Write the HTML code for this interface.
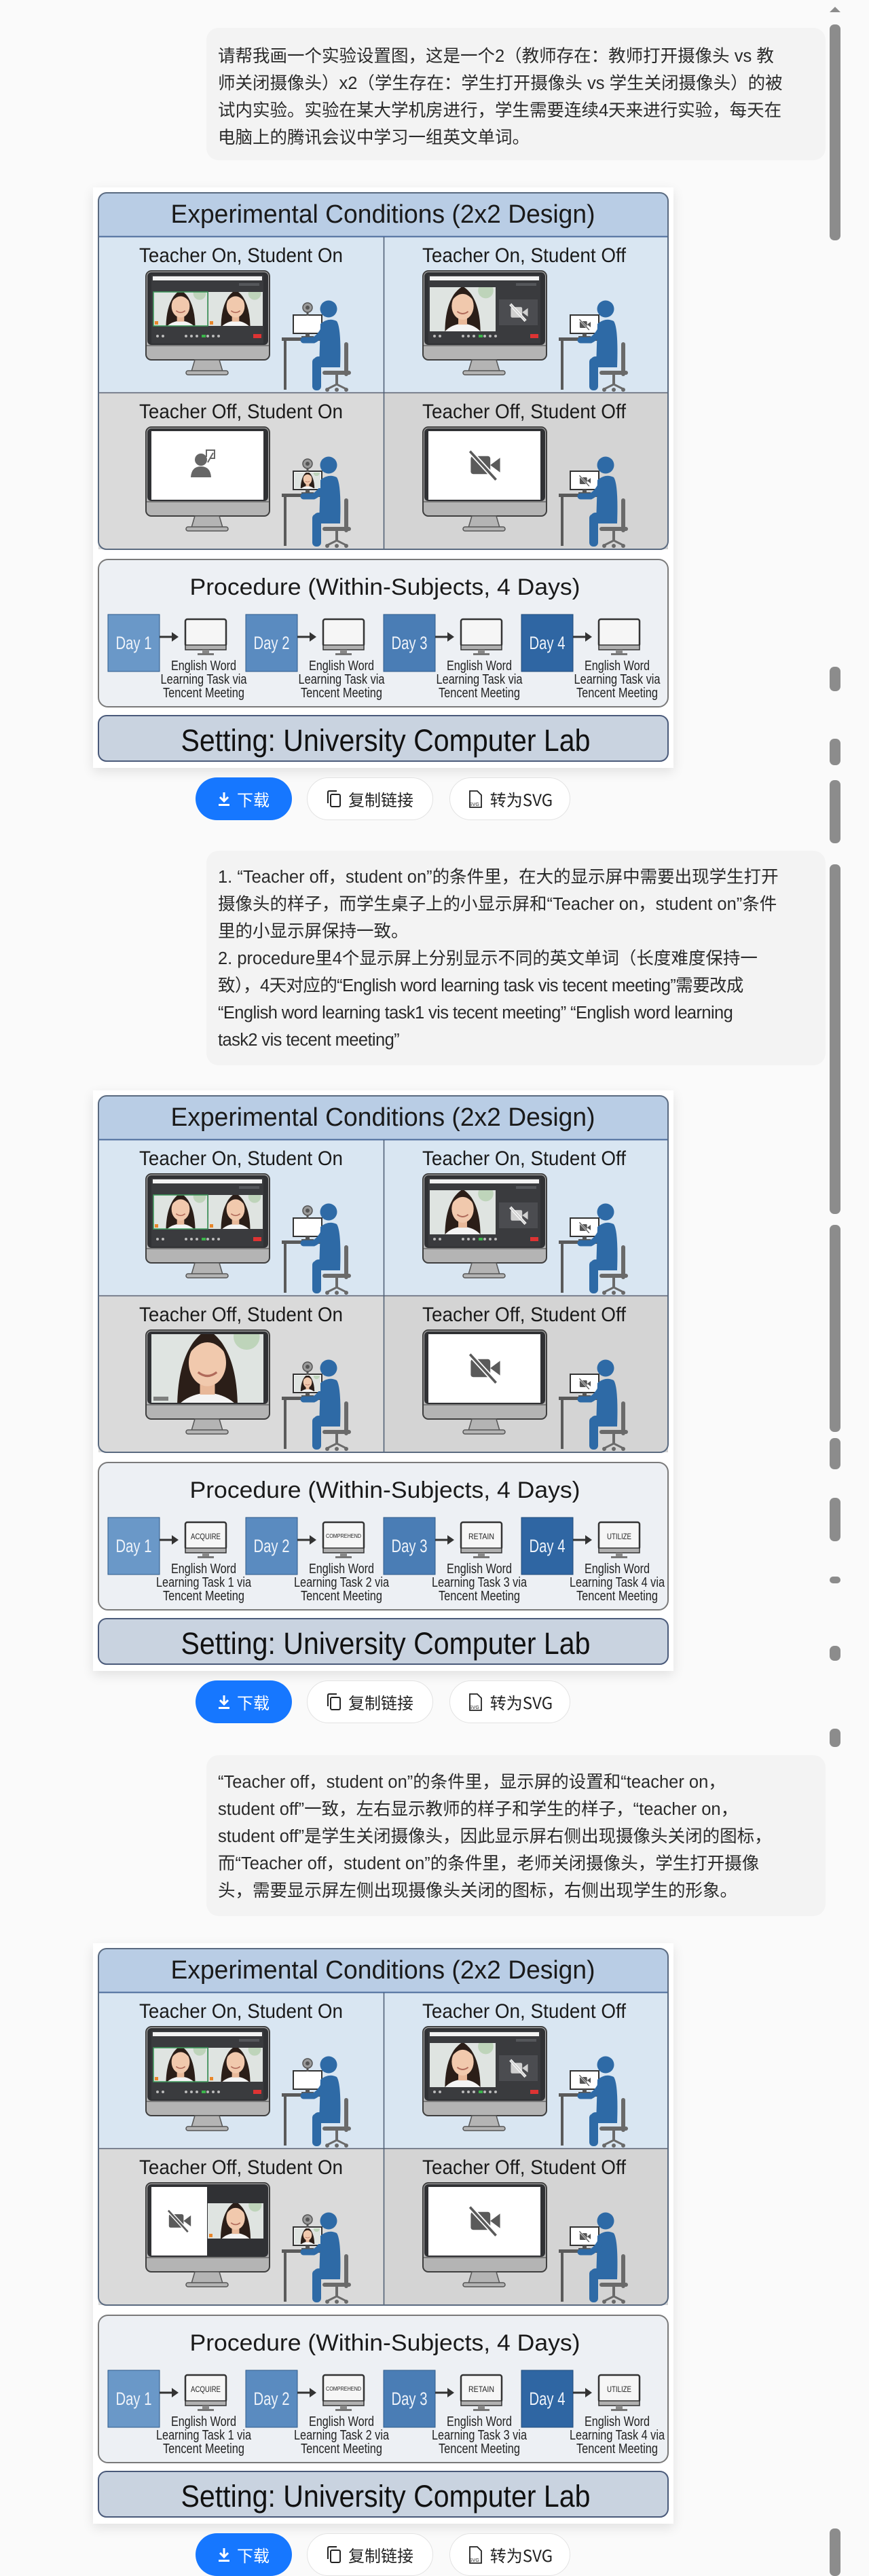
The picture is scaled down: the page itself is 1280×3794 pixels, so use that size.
<!DOCTYPE html>
<html><head><meta charset="utf-8">
<style>
html,body{margin:0;padding:0;}
body{width:1280px;height:3788px;background:#fafafa;position:relative;overflow:hidden;font-family:"Liberation Sans","Noto Sans CJK SC",sans-serif;}
.bub{position:absolute;left:304px;width:912px;background:#f3f3f3;border-radius:18px;}
.bt{position:absolute;left:321px;font-family:"Liberation Sans","Noto Sans CJK SC",sans-serif;font-size:25.5px;line-height:40px;color:#2a2a2a;white-space:nowrap;}
.tight{letter-spacing:-0.6px;}
.wrap{position:absolute;left:137px;width:855px;height:855px;background:#fff;box-shadow:0 6px 16px rgba(0,0,0,0.10);}
.dg{position:absolute;left:144px;}
.btn{position:absolute;height:63px;border-radius:33px;display:flex;align-items:center;justify-content:center;font-family:"Noto Sans CJK SC",sans-serif;font-size:24px;color:#222;background:#fff;border:1px solid #e2e2e2;box-sizing:border-box;gap:10px;}
.btn.blue{background:#1677ff;color:#fff;border:none;}
.sb{position:absolute;left:1222px;width:16px;background:#8c8c8c;border-radius:7px;}
svg text{font-family:"Liberation Sans",sans-serif;}
</style></head><body>

<svg width="0" height="0" style="position:absolute">
<defs>
<symbol id="face" viewBox="0 0 60 60" preserveAspectRatio="xMidYMid slice">
<rect width="60" height="60" fill="#dfe4e1"/>
<rect x="44" y="6" width="14" height="14" rx="7" fill="#a9c9a0" opacity="0.6"/>
<path d="M14 60 Q12 20 30 9 Q48 20 46 60 Z" fill="#2b1e18"/>
<path d="M8 60 Q14 44 30 43 Q46 44 52 60 Z" fill="#f4f4f4"/>
<rect x="26" y="34" width="8" height="10" fill="#e8b899"/>
<ellipse cx="30" cy="27" rx="10" ry="12.5" fill="#f1c9ad"/>
<path d="M19 24 Q22 12 30 12 Q38 12 41 24 Q36 16 30 16 Q24 16 19 24Z" fill="#2b1e18"/>
<path d="M25 32 Q30 36 35 32" stroke="#b06a5a" stroke-width="1.2" fill="none"/>
</symbol>
<g id="camoff">
<rect x="-18" y="-11" width="24" height="22" rx="3" stroke="none"/>
<path d="M6 0 L18 -9 L18 9 Z" stroke="none"/>
<line x1="-19" y1="-17" x2="13" y2="18" stroke="#fff" stroke-width="6"/>
<line x1="-19" y1="-17" x2="13" y2="18" stroke-width="3"/>
</g>
<g id="bigmon">
<rect x="71" y="116" width="182" height="131" rx="8" fill="#b4b4b4" stroke="#3f3f3f" stroke-width="2"/>
<rect x="73" y="118" width="178" height="107" rx="6" fill="#303134"/>
<line x1="72" y1="226" x2="252" y2="226" stroke="#666" stroke-width="1.5"/>
<path d="M143 247 L179 247 L184 264 L138 264Z" fill="#b4b4b4" stroke="#555" stroke-width="1.5"/>
<rect x="130" y="263" width="62" height="6" rx="3" fill="#b4b4b4" stroke="#555" stroke-width="1.5"/>
</g>
<g id="person">
<rect x="271" y="214" width="66" height="5" fill="#5a5a5a"/>
<rect x="274" y="219" width="4" height="72" fill="#5a5a5a"/>
<rect x="288" y="181" width="42" height="27" fill="#fff" stroke="#333" stroke-width="2"/>
<rect x="306" y="208" width="6" height="6" fill="#555"/>
<rect x="300" y="212" width="18" height="3" fill="#555"/>
<path d="M366 224 L366 268" stroke="#6a6a6a" stroke-width="6" stroke-linecap="round"/>
<path d="M334 266 L370 266" stroke="#6a6a6a" stroke-width="6" stroke-linecap="round"/>
<path d="M352 266 L352 284" stroke="#6a6a6a" stroke-width="4"/>
<path d="M338 290 L352 283 L366 290" stroke="#6a6a6a" stroke-width="3" fill="none"/>
<circle cx="338" cy="291" r="3" fill="#6a6a6a"/><circle cx="352" cy="291" r="3" fill="#6a6a6a"/><circle cx="366" cy="291" r="3" fill="#6a6a6a"/>
<circle cx="340" cy="172" r="12.5" fill="#2e6aa6"/>
<path d="M328 194 Q340 184 352 190 Q359 200 357 258 L326 258 Z" fill="#2e6aa6"/>
<path d="M334 200 Q327 214 318 218 L303 218" stroke="#2e6aa6" stroke-width="9" stroke-linecap="round" fill="none"/>
<rect x="318" y="242" width="39" height="16" rx="7" fill="#2e6aa6"/>
<rect x="316" y="244" width="13" height="48" rx="6" fill="#2e6aa6"/>
</g>
<g id="webcam">
<line x1="309" y1="175" x2="309" y2="182" stroke="#555" stroke-width="3"/>
<circle cx="309" cy="170" r="7" fill="#9a9a9a" stroke="#555" stroke-width="1.5"/>
<circle cx="309" cy="170" r="3" fill="#555"/>
</g>
<g id="ui_top">
<rect x="79" y="122" width="165" height="101" fill="#3a3b3e"/>
<rect x="81" y="124" width="161" height="6" fill="#f3f3f3"/>
<rect x="208" y="134" width="30" height="4" fill="#55575b"/>
<g fill="#bbb"><circle cx="88" cy="212" r="2"/><circle cx="96" cy="212" r="2"/><circle cx="130" cy="212" r="2"/><circle cx="138" cy="212" r="2"/><circle cx="146" cy="212" r="2"/><circle cx="162" cy="212" r="2"/><circle cx="170" cy="212" r="2"/><circle cx="178" cy="212" r="2"/></g>
<rect x="153" y="210" width="6" height="4" fill="#3bb54a"/>
<rect x="229" y="209" width="12" height="6" fill="#d33"/>
</g>
<g id="row1">
<use href="#bigmon"/>
<use href="#ui_top"/>
<use href="#face" x="82" y="147" width="80" height="50"/>
<rect x="82" y="147" width="80" height="50" fill="none" stroke="#3c9a5a" stroke-width="1.5"/>
<use href="#face" x="163" y="147" width="80" height="50"/>
<rect x="84" y="190" width="5" height="5" fill="#e8862a"/><rect x="165" y="190" width="5" height="5" fill="#e8862a"/>
<use href="#person"/><use href="#webcam"/>
<g transform="translate(408,0)">
<use href="#bigmon"/>
<use href="#ui_top"/>
<use href="#face" x="81" y="140" width="97" height="65"/>
<rect x="183" y="158" width="57" height="38" fill="#4b4c50"/>
<use href="#camoff" transform="translate(213,177) scale(0.7)" fill="#d0d0d0" stroke="#d0d0d0"/>
<use href="#person"/>
<use href="#camoff" transform="translate(310,195) scale(0.45)" fill="#555" stroke="#555"/>
</g>
</g>
<g id="cell4">
<g transform="translate(408,230)">
<use href="#bigmon"/>
<rect x="79" y="122" width="165" height="101" fill="#fff"/>
<use href="#camoff" transform="translate(163,172) scale(1.2)" fill="#5a5a5a" stroke="#5a5a5a"/>
<use href="#person"/>
<use href="#camoff" transform="translate(310,195) scale(0.45)" fill="#555" stroke="#555"/>
</g>
</g>
<g id="pmon">
<rect x="129" y="629" width="60" height="40" rx="3" fill="#f6f6f6" stroke="#333" stroke-width="2.5"/>
<rect x="129" y="667" width="60" height="7" fill="#b0b0b0" stroke="#333" stroke-width="1.5"/>
<rect x="154" y="674" width="10" height="5" fill="#888"/>
<rect x="147" y="679" width="24" height="3" fill="#777"/>
</g>
<g id="arrow">
<line x1="91" y1="655" x2="111" y2="655" stroke="#333" stroke-width="3"/>
<polygon points="109,648 119,655 109,662" fill="#333"/>
</g>
<g id="frame">
<rect x="1" y="1" width="839" height="525" rx="12" fill="#d9e6f2"/>
<rect x="1" y="296" width="839" height="230" fill="#dadada"/>
<rect x="422" y="296" width="418" height="230" fill="#d4d4d4"/>
<path d="M1 66 L1 13 Q1 1 13 1 L828 1 Q840 1 840 13 L840 66 Z" fill="#b9cde5"/>
<line x1="1" y1="65.5" x2="840" y2="65.5" stroke="#4a6a9a" stroke-width="2"/>
<line x1="1" y1="295.5" x2="840" y2="295.5" stroke="#5a6070" stroke-width="1.5"/>
<line x1="421.5" y1="66" x2="421.5" y2="526" stroke="#4a5a70" stroke-width="1.5"/>
<rect x="1" y="1" width="839" height="525" rx="12" fill="none" stroke="#5a6a80" stroke-width="2"/>
<rect x="1" y="541" width="839" height="217" rx="14" fill="#edf0f4" stroke="#7a7a7a" stroke-width="2"/>
<rect x="1" y="771" width="839" height="67" rx="12" fill="#c9d3e0" stroke="#4a5a7a" stroke-width="2"/>
<rect x="15" y="622" width="76" height="84" fill="#6a98c8" stroke="#2d5a8a"/>
<rect x="218" y="622" width="76" height="84" fill="#5a8bc0" stroke="#2d5a8a"/>
<rect x="421" y="622" width="76" height="84" fill="#4a7db5" stroke="#2d5a8a"/>
<rect x="624" y="622" width="76" height="84" fill="#2f66a3" stroke="#1f4a7a"/>
<use href="#arrow"/><use href="#arrow" x="203"/><use href="#arrow" x="406"/><use href="#arrow" x="609"/>
<use href="#pmon"/><use href="#pmon" x="203"/><use href="#pmon" x="406"/><use href="#pmon" x="609"/>
</g>
</defs>
</svg>

<!-- message 1 -->
<div class="bub" style="top:41px;height:195px;"></div>
<div class="bt" style="top:63px;">请帮我画一个实验设置图，这是一个2（教师存在：教师打开摄像头 vs 教<br>师关闭摄像头）x2（学生存在：学生打开摄像头 vs 学生关闭摄像头）的被<br>试内实验。实验在某大学机房进行，学生需要连续4天来进行实验，每天在<br>电脑上的腾讯会议中学习一组英文单词。</div>

<!-- diagram 1 -->
<div class="wrap" style="top:276px;"></div>
<svg class="dg" style="top:283px" width="841" height="839" viewBox="0 0 841 839">
<use href="#frame"/>
<use href="#row1"/>
<g transform="translate(0,230)">
<use href="#bigmon"/>
<rect x="79" y="122" width="165" height="101" fill="#fff"/>
<circle cx="152" cy="164" r="9" fill="#666"/>
<path d="M137 190 Q138 174 152 174 Q166 174 167 190 Z" fill="#666"/>
<path d="M160 160 L160 150 L172 150 L172 162 L166 162" stroke="#666" stroke-width="2" fill="none"/>
<path d="M162 168 L170 154" stroke="#666" stroke-width="2"/>
<use href="#person"/><use href="#webcam"/>
<use href="#face" x="290" y="183" width="38" height="23"/>
</g>
<use href="#cell4"/>
<text x="420" y="45" font-size="38" text-anchor="middle" textLength="625" lengthAdjust="spacingAndGlyphs" fill="#1a1a1a">Experimental Conditions (2x2 Design)</text>
<text x="211" y="103" font-size="30" text-anchor="middle" textLength="300" lengthAdjust="spacingAndGlyphs" fill="#1a1a1a">Teacher On, Student On</text>
<text x="628" y="103" font-size="30" text-anchor="middle" textLength="300" lengthAdjust="spacingAndGlyphs" fill="#1a1a1a">Teacher On, Student Off</text>
<text x="211" y="333" font-size="30" text-anchor="middle" textLength="300" lengthAdjust="spacingAndGlyphs" fill="#1a1a1a">Teacher Off, Student On</text>
<text x="628" y="333" font-size="30" text-anchor="middle" textLength="300" lengthAdjust="spacingAndGlyphs" fill="#1a1a1a">Teacher Off, Student Off</text>
<text x="423" y="593" font-size="34" text-anchor="middle" textLength="575" lengthAdjust="spacingAndGlyphs" fill="#1a1a1a">Procedure (Within-Subjects, 4 Days)</text>
<g font-size="27" fill="#eef3fa" text-anchor="middle">
<text x="53" y="673" textLength="53" lengthAdjust="spacingAndGlyphs">Day 1</text>
<text x="256" y="673" textLength="53" lengthAdjust="spacingAndGlyphs">Day 2</text>
<text x="459" y="673" textLength="53" lengthAdjust="spacingAndGlyphs">Day 3</text>
<text x="662" y="673" textLength="53" lengthAdjust="spacingAndGlyphs">Day 4</text>
</g>
<g font-size="20" fill="#222" text-anchor="middle">
<text x="156" y="704" textLength="96" lengthAdjust="spacingAndGlyphs">English Word</text>
<text x="156" y="724" textLength="127" lengthAdjust="spacingAndGlyphs">Learning Task via</text>
<text x="156" y="744" textLength="120" lengthAdjust="spacingAndGlyphs">Tencent Meeting</text>
<text x="359" y="704" textLength="96" lengthAdjust="spacingAndGlyphs">English Word</text>
<text x="359" y="724" textLength="127" lengthAdjust="spacingAndGlyphs">Learning Task via</text>
<text x="359" y="744" textLength="120" lengthAdjust="spacingAndGlyphs">Tencent Meeting</text>
<text x="562" y="704" textLength="96" lengthAdjust="spacingAndGlyphs">English Word</text>
<text x="562" y="724" textLength="127" lengthAdjust="spacingAndGlyphs">Learning Task via</text>
<text x="562" y="744" textLength="120" lengthAdjust="spacingAndGlyphs">Tencent Meeting</text>
<text x="765" y="704" textLength="96" lengthAdjust="spacingAndGlyphs">English Word</text>
<text x="765" y="724" textLength="127" lengthAdjust="spacingAndGlyphs">Learning Task via</text>
<text x="765" y="744" textLength="120" lengthAdjust="spacingAndGlyphs">Tencent Meeting</text>
</g>
<text x="424" y="823" font-size="45" text-anchor="middle" textLength="603" lengthAdjust="spacingAndGlyphs" fill="#111">Setting: University Computer Lab</text>
</svg>

<div class="btn blue" style="left:288px;top:1145px;width:142px;"><svg width="18" height="22" viewBox="0 0 18 22"><path d="M9 1 V13 M3 8 L9 14 L15 8" stroke="#fff" stroke-width="3" fill="none"/><rect x="1" y="18" width="16" height="3" fill="#fff"/></svg>下载</div>
<div class="btn" style="left:452px;top:1145px;width:186px;"><svg width="22" height="26" viewBox="0 0 22 26"><rect x="6" y="6" width="14" height="18" rx="2" fill="none" stroke="#222" stroke-width="2"/><path d="M2 19 V3 Q2 1 4 1 H15" fill="none" stroke="#222" stroke-width="2"/></svg>复制链接</div>
<div class="btn" style="left:662px;top:1145px;width:178px;"><svg width="24" height="28" viewBox="0 0 24 28"><path d="M4 2 H15 L21 8 V26 H4 Z" fill="none" stroke="#222" stroke-width="1.8"/><text x="3" y="24" font-size="7" fill="#222">SVG</text></svg>转为SVG</div>

<!-- message 2 -->
<div class="bub" style="top:1253px;height:316px;"></div>
<div class="bt" style="top:1272px;">1. “Teacher off，student on”的条件里，在大的显示屏中需要出现学生打开<br>摄像头的样子，而学生桌子上的小显示屏和“Teacher on，student on”条件<br>里的小显示屏保持一致。<br>2. procedure里4个显示屏上分别显示不同的英文单词（长度难度保持一<br><span class="tight">致），4天对应的“English word learning task vis tecent meeting”需要改成</span><br><span class="tight">“English word learning task1 vis tecent meeting” “English word learning</span><br><span class="tight">task2 vis tecent meeting”</span></div>

<!-- diagram 2 -->
<div class="wrap" style="top:1606px;"></div>
<svg class="dg" style="top:1613px" width="841" height="839" viewBox="0 0 841 839">
<use href="#frame"/>
<use href="#row1"/>
<g transform="translate(0,230)">
<use href="#bigmon"/>
<use href="#face" x="79" y="122" width="165" height="101"/>
<rect x="82" y="214" width="22" height="6" fill="#555" opacity="0.7"/>
<use href="#person"/><use href="#webcam"/>
<use href="#face" x="290" y="183" width="38" height="23"/>
</g>
<use href="#cell4"/>
<text x="420" y="45" font-size="38" text-anchor="middle" textLength="625" lengthAdjust="spacingAndGlyphs" fill="#1a1a1a">Experimental Conditions (2x2 Design)</text>
<text x="211" y="103" font-size="30" text-anchor="middle" textLength="300" lengthAdjust="spacingAndGlyphs" fill="#1a1a1a">Teacher On, Student On</text>
<text x="628" y="103" font-size="30" text-anchor="middle" textLength="300" lengthAdjust="spacingAndGlyphs" fill="#1a1a1a">Teacher On, Student Off</text>
<text x="211" y="333" font-size="30" text-anchor="middle" textLength="300" lengthAdjust="spacingAndGlyphs" fill="#1a1a1a">Teacher Off, Student On</text>
<text x="628" y="333" font-size="30" text-anchor="middle" textLength="300" lengthAdjust="spacingAndGlyphs" fill="#1a1a1a">Teacher Off, Student Off</text>
<text x="423" y="593" font-size="34" text-anchor="middle" textLength="575" lengthAdjust="spacingAndGlyphs" fill="#1a1a1a">Procedure (Within-Subjects, 4 Days)</text>
<g font-size="27" fill="#eef3fa" text-anchor="middle">
<text x="53" y="673" textLength="53" lengthAdjust="spacingAndGlyphs">Day 1</text>
<text x="256" y="673" textLength="53" lengthAdjust="spacingAndGlyphs">Day 2</text>
<text x="459" y="673" textLength="53" lengthAdjust="spacingAndGlyphs">Day 3</text>
<text x="662" y="673" textLength="53" lengthAdjust="spacingAndGlyphs">Day 4</text>
</g>
<g fill="#222" text-anchor="middle">
<text x="159" y="654" font-size="12" textLength="44" lengthAdjust="spacingAndGlyphs">ACQUIRE</text>
<text x="362" y="652" font-size="8" textLength="52" lengthAdjust="spacingAndGlyphs">COMPREHEND</text>
<text x="565" y="654" font-size="12" textLength="38" lengthAdjust="spacingAndGlyphs">RETAIN</text>
<text x="768" y="654" font-size="12" textLength="36" lengthAdjust="spacingAndGlyphs">UTILIZE</text>
</g>
<g font-size="20" fill="#222" text-anchor="middle">
<text x="156" y="704" textLength="96" lengthAdjust="spacingAndGlyphs">English Word</text>
<text x="156" y="724" textLength="140" lengthAdjust="spacingAndGlyphs">Learning Task 1 via</text>
<text x="156" y="744" textLength="120" lengthAdjust="spacingAndGlyphs">Tencent Meeting</text>
<text x="359" y="704" textLength="96" lengthAdjust="spacingAndGlyphs">English Word</text>
<text x="359" y="724" textLength="140" lengthAdjust="spacingAndGlyphs">Learning Task 2 via</text>
<text x="359" y="744" textLength="120" lengthAdjust="spacingAndGlyphs">Tencent Meeting</text>
<text x="562" y="704" textLength="96" lengthAdjust="spacingAndGlyphs">English Word</text>
<text x="562" y="724" textLength="140" lengthAdjust="spacingAndGlyphs">Learning Task 3 via</text>
<text x="562" y="744" textLength="120" lengthAdjust="spacingAndGlyphs">Tencent Meeting</text>
<text x="765" y="704" textLength="96" lengthAdjust="spacingAndGlyphs">English Word</text>
<text x="765" y="724" textLength="140" lengthAdjust="spacingAndGlyphs">Learning Task 4 via</text>
<text x="765" y="744" textLength="120" lengthAdjust="spacingAndGlyphs">Tencent Meeting</text>
</g>
<text x="424" y="823" font-size="45" text-anchor="middle" textLength="603" lengthAdjust="spacingAndGlyphs" fill="#111">Setting: University Computer Lab</text>
</svg>

<div class="btn blue" style="left:288px;top:2475px;width:142px;"><svg width="18" height="22" viewBox="0 0 18 22"><path d="M9 1 V13 M3 8 L9 14 L15 8" stroke="#fff" stroke-width="3" fill="none"/><rect x="1" y="18" width="16" height="3" fill="#fff"/></svg>下载</div>
<div class="btn" style="left:452px;top:2475px;width:186px;"><svg width="22" height="26" viewBox="0 0 22 26"><rect x="6" y="6" width="14" height="18" rx="2" fill="none" stroke="#222" stroke-width="2"/><path d="M2 19 V3 Q2 1 4 1 H15" fill="none" stroke="#222" stroke-width="2"/></svg>复制链接</div>
<div class="btn" style="left:662px;top:2475px;width:178px;"><svg width="24" height="28" viewBox="0 0 24 28"><path d="M4 2 H15 L21 8 V26 H4 Z" fill="none" stroke="#222" stroke-width="1.8"/><text x="3" y="24" font-size="7" fill="#222">SVG</text></svg>转为SVG</div>

<!-- message 3 -->
<div class="bub" style="top:2585px;height:237px;"></div>
<div class="bt" style="top:2605px;">“Teacher off，student on”的条件里，显示屏的设置和“teacher on，<br>student off”一致，左右显示教师的样子和学生的样子，“teacher on，<br>student off”是学生关闭摄像头，因此显示屏右侧出现摄像头关闭的图标，<br>而“Teacher off，student on”的条件里，老师关闭摄像头，学生打开摄像<br>头，需要显示屏左侧出现摄像头关闭的图标，右侧出现学生的形象。</div>

<!-- diagram 3 -->
<div class="wrap" style="top:2862px;"></div>
<svg class="dg" style="top:2869px" width="841" height="839" viewBox="0 0 841 839">
<use href="#frame"/>
<use href="#row1"/>
<g transform="translate(0,230)">
<use href="#bigmon"/>
<rect x="79" y="122" width="165" height="101" fill="#303134"/>
<rect x="79" y="122" width="82" height="101" fill="#fff"/>
<use href="#camoff" transform="translate(121,172) scale(0.9)" fill="#5a5a5a" stroke="#5a5a5a"/>
<use href="#face" x="162" y="146" width="82" height="52"/>
<rect x="164" y="191" width="5" height="5" fill="#e8862a"/>
<use href="#person"/><use href="#webcam"/>
<use href="#face" x="290" y="183" width="38" height="23"/>
</g>
<use href="#cell4"/>
<text x="420" y="45" font-size="38" text-anchor="middle" textLength="625" lengthAdjust="spacingAndGlyphs" fill="#1a1a1a">Experimental Conditions (2x2 Design)</text>
<text x="211" y="103" font-size="30" text-anchor="middle" textLength="300" lengthAdjust="spacingAndGlyphs" fill="#1a1a1a">Teacher On, Student On</text>
<text x="628" y="103" font-size="30" text-anchor="middle" textLength="300" lengthAdjust="spacingAndGlyphs" fill="#1a1a1a">Teacher On, Student Off</text>
<text x="211" y="333" font-size="30" text-anchor="middle" textLength="300" lengthAdjust="spacingAndGlyphs" fill="#1a1a1a">Teacher Off, Student On</text>
<text x="628" y="333" font-size="30" text-anchor="middle" textLength="300" lengthAdjust="spacingAndGlyphs" fill="#1a1a1a">Teacher Off, Student Off</text>
<text x="423" y="593" font-size="34" text-anchor="middle" textLength="575" lengthAdjust="spacingAndGlyphs" fill="#1a1a1a">Procedure (Within-Subjects, 4 Days)</text>
<g font-size="27" fill="#eef3fa" text-anchor="middle">
<text x="53" y="673" textLength="53" lengthAdjust="spacingAndGlyphs">Day 1</text>
<text x="256" y="673" textLength="53" lengthAdjust="spacingAndGlyphs">Day 2</text>
<text x="459" y="673" textLength="53" lengthAdjust="spacingAndGlyphs">Day 3</text>
<text x="662" y="673" textLength="53" lengthAdjust="spacingAndGlyphs">Day 4</text>
</g>
<g fill="#222" text-anchor="middle">
<text x="159" y="654" font-size="12" textLength="44" lengthAdjust="spacingAndGlyphs">ACQUIRE</text>
<text x="362" y="652" font-size="8" textLength="52" lengthAdjust="spacingAndGlyphs">COMPREHEND</text>
<text x="565" y="654" font-size="12" textLength="38" lengthAdjust="spacingAndGlyphs">RETAIN</text>
<text x="768" y="654" font-size="12" textLength="36" lengthAdjust="spacingAndGlyphs">UTILIZE</text>
</g>
<g font-size="20" fill="#222" text-anchor="middle">
<text x="156" y="704" textLength="96" lengthAdjust="spacingAndGlyphs">English Word</text>
<text x="156" y="724" textLength="140" lengthAdjust="spacingAndGlyphs">Learning Task 1 via</text>
<text x="156" y="744" textLength="120" lengthAdjust="spacingAndGlyphs">Tencent Meeting</text>
<text x="359" y="704" textLength="96" lengthAdjust="spacingAndGlyphs">English Word</text>
<text x="359" y="724" textLength="140" lengthAdjust="spacingAndGlyphs">Learning Task 2 via</text>
<text x="359" y="744" textLength="120" lengthAdjust="spacingAndGlyphs">Tencent Meeting</text>
<text x="562" y="704" textLength="96" lengthAdjust="spacingAndGlyphs">English Word</text>
<text x="562" y="724" textLength="140" lengthAdjust="spacingAndGlyphs">Learning Task 3 via</text>
<text x="562" y="744" textLength="120" lengthAdjust="spacingAndGlyphs">Tencent Meeting</text>
<text x="765" y="704" textLength="96" lengthAdjust="spacingAndGlyphs">English Word</text>
<text x="765" y="724" textLength="140" lengthAdjust="spacingAndGlyphs">Learning Task 4 via</text>
<text x="765" y="744" textLength="120" lengthAdjust="spacingAndGlyphs">Tencent Meeting</text>
</g>
<text x="424" y="823" font-size="45" text-anchor="middle" textLength="603" lengthAdjust="spacingAndGlyphs" fill="#111">Setting: University Computer Lab</text>
</svg>

<div class="btn blue" style="left:288px;top:3731px;width:142px;"><svg width="18" height="22" viewBox="0 0 18 22"><path d="M9 1 V13 M3 8 L9 14 L15 8" stroke="#fff" stroke-width="3" fill="none"/><rect x="1" y="18" width="16" height="3" fill="#fff"/></svg>下载</div>
<div class="btn" style="left:452px;top:3731px;width:186px;"><svg width="22" height="26" viewBox="0 0 22 26"><rect x="6" y="6" width="14" height="18" rx="2" fill="none" stroke="#222" stroke-width="2"/><path d="M2 19 V3 Q2 1 4 1 H15" fill="none" stroke="#222" stroke-width="2"/></svg>复制链接</div>
<div class="btn" style="left:662px;top:3731px;width:178px;"><svg width="24" height="28" viewBox="0 0 24 28"><path d="M4 2 H15 L21 8 V26 H4 Z" fill="none" stroke="#222" stroke-width="1.8"/><text x="3" y="24" font-size="7" fill="#222">SVG</text></svg>转为SVG</div>

<!-- scrollbar thumbs -->
<div style="position:absolute;left:1222px;top:10px;width:0;height:0;border-left:8px solid transparent;border-right:8px solid transparent;border-bottom:8px solid #8c8c8c;"></div>
<div class="sb" style="top:36px;height:318px"></div>
<div class="sb" style="top:982px;height:36px"></div>
<div class="sb" style="top:1088px;height:39px"></div>
<div class="sb" style="top:1149px;height:93px"></div>
<div class="sb" style="top:1273px;height:515px"></div>
<div class="sb" style="top:1804px;height:305px"></div>
<div class="sb" style="top:2118px;height:46px"></div>
<div class="sb" style="top:2206px;height:64px"></div>
<div class="sb" style="top:2322px;height:10px"></div>
<div class="sb" style="top:2424px;height:22px"></div>
<div class="sb" style="top:2546px;height:27px"></div>
<div class="sb" style="top:3724px;height:70px"></div>
</body></html>
